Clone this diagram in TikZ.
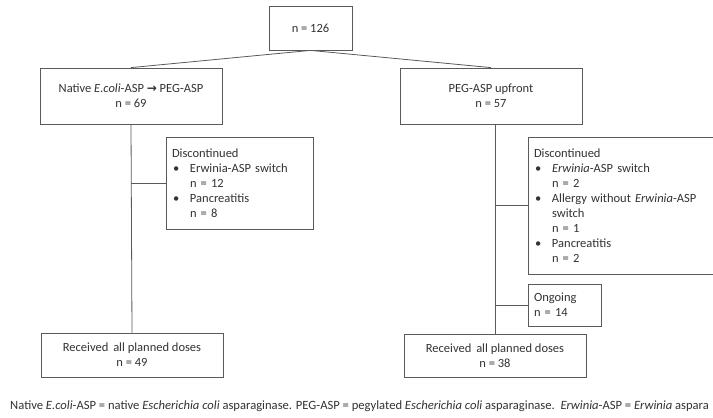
\documentclass[tikz,border=0pt]{standalone}
\usepackage{fontspec}
\setmainfont{Carlito}
\newfontfamily\arrowfont{DejaVu Sans}
\definecolor{linec}{HTML}{5A5A5A}
\definecolor{textc}{HTML}{333333}
\newcommand\bitem{\makebox[18pt][l]{\hspace{1pt}•}}
\newcommand\bind{\hspace*{18pt}}
\begin{document}
\begin{tikzpicture}[x=1pt,y=-1pt,
  box/.style={draw=linec, line width=0.8pt, inner sep=0pt, align=center,
    font=\fontsize{12.5}{15}\selectfont, text=textc},
  lbox/.style={draw=linec, line width=0.8pt, inner xsep=6pt, inner ysep=0pt,
    align=left, font=\fontsize{12.5}{15}\selectfont, text=textc},
  conn/.style={draw=linec, line width=0.8pt}]
\useasboundingbox (0,0) rectangle (713,418);
\clip (0,0) rectangle (713,418);
\fill[white] (0,0) rectangle (713,418);

\node[box, minimum width=83, minimum height=44] (top) at (310.5,28) {n = 126};
\node[box, minimum width=182, minimum height=56] (left) at (131,96)
  {Native \textit{E.coli}-ASP {\arrowfont\bfseries\fontsize{12}{12}\selectfont →} PEG-ASP\\ n = 69};
\node[box, minimum width=182, minimum height=56] (right) at (491,96)
  {PEG-ASP upfront\\ n = 57};

\node[lbox, text width=135, minimum height=92] (disc1) at (239.5,183)
  {Discontinued\\
   \bitem Erwinia-ASP switch\\
   \bind n = 12\\
   \bitem Pancreatitis\\
   \bind n = 8};

\node[lbox, text width=200, minimum height=137] (disc2) at (634,205.5)
  {Discontinued\\
   \bitem \textit{Erwinia}-ASP switch\\
   \bind n = 2\\
   \bitem Allergy without \textit{Erwinia}-ASP\\
   \bind switch\\
   \bind n = 1\\
   \bitem Pancreatitis\\
   \bind n = 2};

\node[lbox, text width=61, minimum height=42] (ong) at (564.5,305)
  {Ongoing\\ n = 14};

\node[box, minimum width=182, minimum height=44] (lb) at (132,355)
  {Received\, all planned doses\\ n = 49};
\node[box, minimum width=182, minimum height=43] (rb) at (495,355.5)
  {Received\, all planned doses\\ n = 38};

\draw[conn] (top.south) -- (left.north);
\draw[conn] (top.south) -- (right.north);
\draw[conn] (left.south) -- (lb.north);
\draw[conn] (left.south |- disc1.west) -- (disc1.west);
\draw[conn] (rb.north) -- (rb.north |- right.south);
\draw[conn] (rb.north |- disc2.west) -- (disc2.west);
\draw[conn] (rb.north |- ong.west) -- (ong.west);

\node[anchor=base west, inner sep=0pt, text=textc,
  font=\fontsize{12.6}{14}\selectfont] (cap) at (10,409)
  {Native \textit{E.coli}-ASP = native \textit{Escherichia coli} asparaginase. PEG-ASP = pegylated \textit{Escherichia coli} asparaginase.\ \ \textit{Erwinia}-ASP = \textit{Erwinia} aspara};
\end{tikzpicture}
\end{document}
